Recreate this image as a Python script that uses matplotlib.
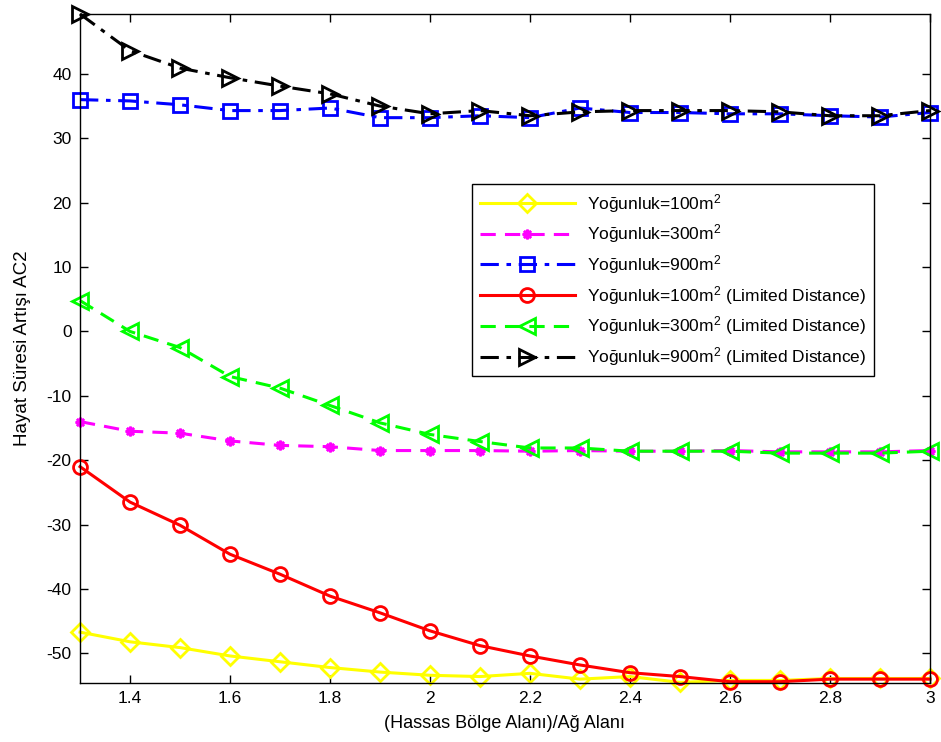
import numpy as np
import matplotlib
matplotlib.use('Agg')
import matplotlib.pyplot as plt

plt.rcParams['font.family'] = ['Liberation Sans', 'DejaVu Sans']
plt.rcParams['mathtext.fontset'] = 'custom'
plt.rcParams['mathtext.rm'] = 'Liberation Sans'
plt.rcParams['mathtext.it'] = 'Liberation Sans'
plt.rcParams['axes.unicode_minus'] = False

# data
x = [1.3, 1.4, 1.5, 1.6, 1.7, 1.8, 1.9, 2.0, 2.1, 2.2, 2.3, 2.4, 2.5, 2.6, 2.7, 2.8, 2.9, 3.0]

d100 = [-46.7, -48.2, -49.1, -50.4, -51.3, -52.2, -52.9, -53.4, -53.6, -53.1,
        -54.0, -53.6, -54.5, -54.2, -54.2, -53.9, -53.9, -53.9]
d300 = [-14.0, -15.5, -15.8, -17.0, -17.7, -17.9, -18.5, -18.5, -18.5, -18.6,
        -18.5, -18.6, -18.6, -18.5, -18.7, -18.7, -18.7, -18.5]
d900 = [36.0, 35.8, 35.2, 34.3, 34.3, 34.7, 33.2, 33.2, 33.5, 33.2,
        34.7, 34.0, 34.0, 33.8, 33.8, 33.5, 33.3, 34.0]
d100_ld = [-21.0, -26.5, -30.1, -34.6, -37.7, -41.1, -43.7, -46.5, -48.8, -50.4,
           -51.8, -53.0, -53.6, -54.4, -54.4, -54.0, -54.0, -54.0]
d300_ld = [4.8, 0.0, -2.5, -7.0, -8.8, -11.5, -14.2, -16.0, -17.1, -18.1,
           -18.1, -18.6, -18.6, -18.6, -18.9, -18.9, -18.9, -18.6]
d900_ld = [49.3, 43.6, 40.9, 39.4, 38.1, 36.9, 35.0, 33.8, 34.3, 33.5,
           34.1, 34.3, 34.3, 34.3, 34.1, 33.5, 33.5, 34.3]

labels = [r'Yoğunluk=100m$^2$',
          r'Yoğunluk=300m$^2$',
          r'Yoğunluk=900m$^2$',
          r'Yoğunluk=100m$^2$ (Limited Distance)',
          r'Yoğunluk=300m$^2$ (Limited Distance)',
          r'Yoğunluk=900m$^2$ (Limited Distance)']

fig = plt.figure(figsize=(9.41, 7.42), dpi=100)
ax = fig.add_axes([80 / 941, 1 - 683 / 742, 850 / 941, 669 / 742])

lw = 2.2
dash = (0, (5, 3))
dashdot = (0, (6, 2.5, 1.5, 2.5))
ax.plot(x, d100, color='#ffff00', ls='-', lw=lw, marker='D', ms=9.5, mfc='none', mew=2, label=labels[0], clip_on=False)
ax.plot(x, d300, color='#ff00ff', ls=dash, lw=lw, marker=(8, 2, 0), ms=7, mew=1.8, label=labels[1], clip_on=False)
ax.plot(x, d900, color='#0000ff', ls=dashdot, lw=lw, marker='s', ms=10, mfc='none', mew=2, label=labels[2], clip_on=False)
ax.plot(x, d100_ld, color='#ff0000', ls='-', lw=lw, marker='o', ms=10, mfc='none', mew=2, label=labels[3], clip_on=False)
ax.plot(x, d300_ld, color='#00ff00', ls=dash, lw=lw, marker='<', ms=11, mfc='none', mew=2, label=labels[4], clip_on=False)
ax.plot(x, d900_ld, color='black', ls=dashdot, lw=lw, marker='>', ms=11, mfc='none', mew=2, label=labels[5], clip_on=False)

ax.set_xlim(1.3, 3.0)
ax.set_ylim(-54.6, 49.3)
ax.set_xticks([1.4, 1.6, 1.8, 2.0, 2.2, 2.4, 2.6, 2.8, 3.0])
ax.set_xticklabels(['1.4', '1.6', '1.8', '2', '2.2', '2.4', '2.6', '2.8', '3'])
ax.set_yticks([-50, -40, -30, -20, -10, 0, 10, 20, 30, 40])
ax.tick_params(direction='in', top=True, right=True, length=6, width=1, labelsize=12.5, pad=6)
for s in ax.spines.values():
    s.set_linewidth(1)

ax.set_xlabel('(Hassas Bölge Alanı)/Ağ Alanı', fontsize=13, labelpad=6)
ax.set_ylabel('Hayat Süresi Artışı AC2', fontsize=13.5, labelpad=11)

leg = ax.legend(loc='upper left', bbox_to_anchor=(0.4506, 0.759), fontsize=12.5,
                handlelength=5.5, handletextpad=0.7, labelspacing=0.45, borderpad=0.45,
                frameon=True, fancybox=False, edgecolor='black', framealpha=1)
leg.get_frame().set_linewidth(1)

fig.savefig('out.png', dpi=100)
